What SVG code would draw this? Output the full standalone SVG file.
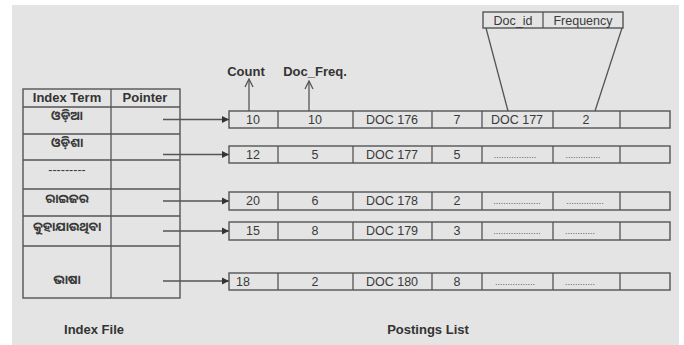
<svg xmlns="http://www.w3.org/2000/svg" width="684" height="345" viewBox="0 0 684 345">
<defs>
<style>
.bx{fill:none;stroke:#555;stroke-width:1.4}
.ln{stroke:#555;stroke-width:1.3;fill:none}
.t{font-family:"Liberation Sans",Arial,sans-serif;font-size:12.5px;fill:#3a3a3a;text-anchor:middle}
.b{font-family:"Liberation Sans",Arial,sans-serif;font-size:13px;font-weight:bold;fill:#333;text-anchor:middle}
.o{font-family:"Noto Sans Oriya","Noto Sans Odia","Lohit Odia","Noto Sans",sans-serif;font-size:12.5px;font-weight:bold;fill:#3a3a3a;text-anchor:middle}
.d{font-family:"Liberation Sans",Arial,sans-serif;font-size:9px;fill:#555;text-anchor:middle}
</style>
<marker id="ah" markerWidth="8" markerHeight="8" refX="7" refY="4" orient="auto" markerUnits="userSpaceOnUse">
<path d="M0,0.5 L7,4 L0,7.5 Z" fill="#333"/>
</marker>
<marker id="up" markerWidth="10" markerHeight="10" refX="9" refY="5" orient="auto" markerUnits="userSpaceOnUse">
<path d="M1,1 L9,5 L1,9" fill="none" stroke="#555" stroke-width="1.3"/>
</marker>
</defs>
<rect x="0" y="0" width="684" height="345" fill="#fff"/>
<rect x="12" y="5" width="667" height="340" fill="#e4e4e4"/>

<g id="index-file">
<rect class="bx" x="23" y="89" width="157" height="209"/>
<line class="ln" x1="111" y1="89" x2="111" y2="298"/>
<line class="ln" x1="23" y1="107" x2="180" y2="107"/>
<line class="ln" x1="23" y1="134" x2="180" y2="134"/>
<line class="ln" x1="23" y1="160" x2="180" y2="160"/>
<line class="ln" x1="23" y1="189" x2="180" y2="189"/>
<line class="ln" x1="23" y1="216" x2="180" y2="216"/>
<line class="ln" x1="23" y1="246" x2="180" y2="246"/>
<text class="b" x="67" y="102">Index Term</text>
<text class="b" x="145" y="102">Pointer</text>
<text class="o" x="67" y="120">ଓଡ଼ିଆ</text>
<text class="o" x="67" y="147">ଓଡ଼ିଶା</text>
<text class="t" x="67" y="174">---------</text>
<text class="o" x="67" y="203">ରାଇଜର</text>
<text class="o" x="67" y="231">କୁହାଯାଉଥିବା</text>
<text class="o" x="67" y="284">ଭାଷା</text>
</g>

<g id="header-label">
<rect class="bx" x="483" y="12" width="140" height="16"/>
<line class="ln" x1="543" y1="12" x2="543" y2="28"/>
<text class="t" x="513" y="25">Doc_id</text>
<text class="t" x="583" y="25">Frequency</text>
</g>

<g id="labels">
<text class="b" x="246" y="76">Count</text>
<text class="b" x="315" y="76">Doc_Freq.</text>
<text class="b" x="94" y="334">Index File</text>
<text class="b" x="428" y="334">Postings List</text>
</g>

<g id="row1">
<rect class="bx" x="229" y="111" width="441" height="17"/>
<path class="ln" d="M278,111V128M353,111V128M432,111V128M482,111V128M553,111V128M620,111V128"/>
<text class="t" x="253" y="124">10</text>
<text class="t" x="315" y="124">10</text>
<text class="t" x="392" y="124">DOC 176</text>
<text class="t" x="457" y="124">7</text>
<text class="t" x="517" y="124">DOC 177</text>
<text class="t" x="586" y="124">2</text>
</g>
<g id="row2">
<rect class="bx" x="229" y="146" width="441" height="17"/>
<path class="ln" d="M278,146V163M353,146V163M432,146V163M482,146V163M553,146V163M620,146V163"/>
<text class="t" x="253" y="159">12</text>
<text class="t" x="315" y="159">5</text>
<text class="t" x="392" y="159">DOC 177</text>
<text class="t" x="457" y="159">5</text>
<text class="d" x="515" y="158">.................</text>
<text class="d" x="583" y="158">..............</text>
</g>
<g id="row3">
<rect class="bx" x="229" y="192" width="441" height="18"/>
<path class="ln" d="M278,192V210M353,192V210M432,192V210M482,192V210M553,192V210M620,192V210"/>
<text class="t" x="253" y="205">20</text>
<text class="t" x="315" y="205">6</text>
<text class="t" x="392" y="205">DOC 178</text>
<text class="t" x="457" y="205">2</text>
<text class="d" x="517" y="204">...................</text>
<text class="d" x="585" y="204">...............</text>
</g>
<g id="row4">
<rect class="bx" x="229" y="222" width="441" height="18"/>
<path class="ln" d="M278,222V240M353,222V240M432,222V240M482,222V240M553,222V240M620,222V240"/>
<text class="t" x="253" y="235">15</text>
<text class="t" x="315" y="235">8</text>
<text class="t" x="392" y="235">DOC 179</text>
<text class="t" x="457" y="235">3</text>
<text class="d" x="517" y="234">...................</text>
<text class="d" x="580" y="234">............</text>
</g>
<g id="row5">
<rect class="bx" x="229" y="273" width="441" height="17"/>
<path class="ln" d="M278,273V290M353,273V290M432,273V290M482,273V290M553,273V290M620,273V290"/>
<text class="t" x="243" y="286">18</text>
<text class="t" x="315" y="286">2</text>
<text class="t" x="392" y="286">DOC 180</text>
<text class="t" x="457" y="286">8</text>
<text class="d" x="515" y="285">................</text>
<text class="d" x="580" y="285">............</text>
</g>

<g id="connectors">
<line class="ln" x1="163" y1="119.5" x2="229" y2="119.5" marker-end="url(#ah)"/>
<line class="ln" x1="163" y1="154.5" x2="229" y2="154.5" marker-end="url(#ah)"/>
<line class="ln" x1="163" y1="201" x2="229" y2="201" marker-end="url(#ah)"/>
<line class="ln" x1="163" y1="231" x2="229" y2="231" marker-end="url(#ah)"/>
<line class="ln" x1="163" y1="281" x2="229" y2="281" marker-end="url(#ah)"/>
<line class="ln" x1="249" y1="111" x2="249" y2="79" marker-end="url(#up)"/>
<line class="ln" x1="309" y1="111" x2="309" y2="81" marker-end="url(#up)"/>
<line class="ln" x1="486" y1="28" x2="508" y2="111"/>
<line class="ln" x1="622" y1="28" x2="595" y2="111"/>
</g>
</svg>
